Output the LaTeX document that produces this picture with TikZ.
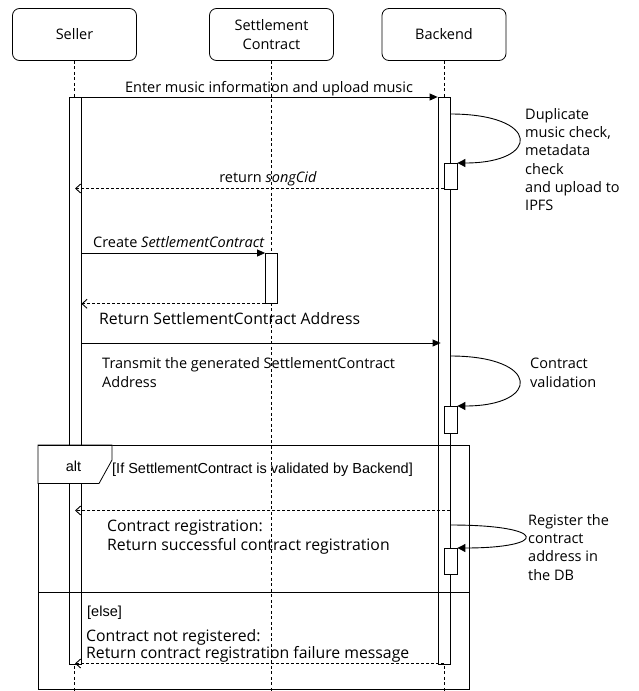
\documentclass[tikz,border=0pt]{standalone}
\usepackage{fontspec}
\setmainfont{Open Sans}
\newfontfamily\arialfont{Liberation Sans}
\usetikzlibrary{arrows.meta,calc}

\tikzset{
  actor/.style={draw, line width=0.8pt, rounded corners=7pt, minimum width=124pt,
    minimum height=52pt, align=center, inner sep=0pt},
  actbar/.style={draw, line width=0.8pt, fill=white, minimum width=12pt, inner sep=0pt, anchor=north},
  subbar/.style={draw, line width=0.8pt, fill=white, minimum width=13pt, inner sep=0pt, anchor=north},
  lifeline/.style={line width=0.6pt, dash pattern=on 3pt off 2.5pt},
  msg/.style={line width=0.8pt, -{Triangle[length=8pt,width=7pt]}},
  ret/.style={line width=0.9pt, dash pattern=on 3pt off 2pt, -{Straight Barb[length=5pt,width=9pt]}},
  selfloop/.style={line width=0.9pt, -{Triangle[length=8pt,width=8pt]}},
  lbl/.style={inner sep=0pt, align=left},
  note/.style={inner sep=0pt, align=left, anchor=north west},
  widetxt/.style={font=\fontsize{15.8}{19}\selectfont},
  arialtxt/.style={inner sep=0pt, font=\arialfont\fontsize{14.5}{18}\selectfont},
  frameline/.style={line width=1pt}
}

\begin{document}
\begin{tikzpicture}[x=1pt, y=-1pt, font=\fontsize{14.5}{19}\selectfont]
\useasboundingbox (0,0) rectangle (638,691);

% participants
\node[actor] (seller)  at (74.5,34.5) {Seller};
\node[actor] (settle)  at (271.5,34.5) {\fontsize{14.5}{17.5}\selectfont Settlement\\Contract};
\node[actor] (backend) at (444,34.5) {Backend};

% lifelines run to the bottom edge
\coordinate (bottom) at (0,691);
\draw[lifeline] (seller.south)  -- (seller.south |- bottom);
\draw[lifeline] (settle.south)  -- (settle.south |- bottom);
\draw[lifeline] (backend.south) -- (backend.south |- bottom);

% activation bars
\node[actbar, minimum height=567pt] (sbar)  at (75,97) {};
\node[actbar, minimum height=567pt] (bbar)  at (444,97) {};
\node[actbar, minimum height=50pt]  (stbar) at (271.5,253) {};
\node[subbar, minimum height=25.5pt]  (bx1)   at (450.5,163) {};
\node[subbar, minimum height=27pt]  (bx2)   at (450.5,406) {};
\node[subbar, minimum height=26pt]  (bx3)   at (450.5,548) {};

% alt fragment
\draw[frameline] (38,445) rectangle (469,689);
\draw[frameline] (38,592) -- (469,592);
\draw[line width=0.8pt, fill=white] (38,445) -- (112,445) -- (112,460) -- (99,483.5) -- (38,483.5) -- cycle;
\draw[frameline] (38,445) -- (112,445);
\node[arialtxt, anchor=base] (alttag) at (73.5,471) {alt};
\node[arialtxt, anchor=base west] (guard1) at (112,473)
  {[If SettlementContract is validated by Backend]};
\node[arialtxt, anchor=base west] (guard2) at (87,616) {[else]};

% message rows
\coordinate (r1) at (0,97);
\coordinate (r2) at (0,188.5);
\coordinate (r3) at (0,253);
\coordinate (r4) at (0,343);
\coordinate (r5) at (0,510.5);
\coordinate (r6) at (0,663.5);
\coordinate (l1) at (0,114);
\coordinate (l2) at (0,356);
\coordinate (l3) at (0,525);

% 1: upload
\draw[msg] (sbar.east |- r1) -- (bbar.west |- r1);
\node[lbl, anchor=base] (t1) at (269,92) {Enter music information and upload music};

% self call: checks and IPFS upload
\draw[selfloop] (bbar.east |- l1) .. controls (541,114) and (541,163) .. (bx1.north east);
\node[note, font=\fontsize{14.5}{18.3}\selectfont] (n1) at (525,108)
  {Duplicate\\music check,\\metadata\\check\\and upload to\\IPFS};

% 2: return songCid
\draw[ret] (bx1.west |- r2) -- (sbar.center |- r2);
\node[lbl, anchor=base] (t2) at (268,182) {return \textit{songCid}};

% 3: create contract
\draw[msg] (sbar.east |- r3) -- (stbar.north west);
\node[lbl, anchor=base west] (t3) at (93,247) {Create \textit{SettlementContract}};
\draw[ret] (stbar.south west) -- (sbar.east |- stbar.south);
\node[lbl, widetxt, anchor=base west] (t4) at (99,324) {Return SettlementContract Address};

% 4: transmit address
\draw[msg] ($(sbar.east |- r4)$) -- ($(bbar.west |- r4)+(3,0)$);
\node[note] (t5) at (102,357) {Transmit the generated SettlementContract\\Address};

% self call: validation
\draw[selfloop] (bbar.east |- l2) .. controls (541,356) and (541,406) .. (bx2.north east);
\node[note, font=\fontsize{14.5}{18.3}\selectfont] (n2) at (530,358) {Contract\\validation};

% alt branch 1
\draw[ret] (bbar.east |- r5) -- (sbar.center |- r5);
\node[note, widetxt] (t6) at (107,520) {Contract registration:\\Return successful contract registration};
\draw[selfloop] (bbar.east |- l3) .. controls (549,525) and (549,548) .. (bx3.north east);
\node[note, font=\fontsize{14.5}{18.3}\selectfont] (n3) at (528,514) {Register the\\contract\\address in\\the DB};

% alt branch 2
\node[note, widetxt, font=\fontsize{15.8}{17.5}\selectfont] (t7) at (86,629)
  {Contract not registered:\\Return contract registration failure message};
\draw[ret] (bbar.center |- r6) -- (sbar.center |- r6);
\end{tikzpicture}
\end{document}
